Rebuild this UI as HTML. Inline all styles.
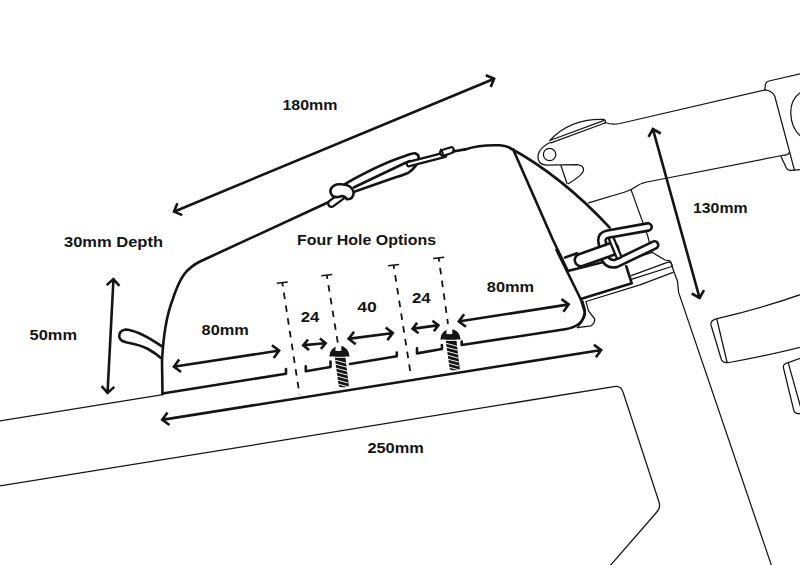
<!DOCTYPE html>
<html><head><meta charset="utf-8"><style>
html,body{margin:0;padding:0;background:#fff;}
body{width:800px;height:565px;overflow:hidden;}
svg{display:block;}
</style></head><body>
<svg width="800" height="565" viewBox="0 0 800 565">
<rect width="800" height="565" fill="#fff"/>
<path d="M-2,421.3 L163,394.6" fill="none" stroke="#141414" stroke-width="1.25" stroke-linecap="round" stroke-linejoin="round"/>
<path d="M-2,486.3 L614,386.6 Q621,385.3 623,392 L659,502 Q661,508 656,513 L609,567" fill="none" stroke="#141414" stroke-width="1.25" stroke-linecap="round" stroke-linejoin="round"/>
<path d="M631,189.6 L647.6,235.6 L651.9,251.9 Q658,256 665,260 L670,260.8 Q672,263 672,266 L673.75,271.25 L677.5,281.25 L678.6,292.4 L772,567" fill="none" stroke="#141414" stroke-width="1.25" stroke-linecap="round" stroke-linejoin="round"/>
<path d="M631.25,275.6 L668,262.2 Q671,262 671.5,264 L672.5,266.25 L631.25,279.4" fill="none" stroke="#141414" stroke-width="1.25" stroke-linecap="round" stroke-linejoin="round"/>
<path d="M586,301.5 L640,284.8 L673,272.4" fill="none" stroke="#141414" stroke-width="1.25" stroke-linecap="round" stroke-linejoin="round"/>
<path d="M627.5,260 L652.5,252.5" fill="none" stroke="#141414" stroke-width="1.25" stroke-linecap="round" stroke-linejoin="round"/>
<path d="M588.5,202.8 L625,192 Q632,189.8 636,186.5 Q640,183.5 647,182 L782,155.5" fill="none" stroke="#141414" stroke-width="1.25" stroke-linecap="round" stroke-linejoin="round"/>
<path d="M605,122.5 Q612,125 620,123.5 L765,90" fill="none" stroke="#141414" stroke-width="1.25" stroke-linecap="round" stroke-linejoin="round"/>
<path d="M764.7,89.8 L765.5,84 Q766,81.8 769,81 L805,72.8" fill="none" stroke="#141414" stroke-width="1.25" stroke-linecap="round" stroke-linejoin="round"/>
<path d="M764.7,89.8 Q772,90.5 774.7,96 L789.6,151.8 Q789,155 782,155.5" fill="none" stroke="#141414" stroke-width="1.25" stroke-linecap="round" stroke-linejoin="round"/>
<path d="M781,156.5 L785.8,166.7 Q787,170.4 791,170.4 L805,169.3" fill="none" stroke="#141414" stroke-width="1.25" stroke-linecap="round" stroke-linejoin="round"/>
<path d="M789.6,151.8 L794.5,170.4" fill="none" stroke="#141414" stroke-width="1.25" stroke-linecap="round" stroke-linejoin="round"/>
<path d="M805,89.8 Q790,97 790.8,114 Q791.5,131 805,139.4" fill="none" stroke="#141414" stroke-width="1.25" stroke-linecap="round" stroke-linejoin="round"/>
<path d="M549.8,140.5 Q570,118.5 603.5,119.4 Q606.5,120.5 605,123 M549.8,140.5 L603.5,120.6" fill="none" stroke="#141414" stroke-width="1.25" stroke-linecap="round" stroke-linejoin="round"/>
<path d="M551,142.8 L605,123" fill="none" stroke="#141414" stroke-width="1.25" stroke-linecap="round" stroke-linejoin="round"/>
<path d="M550.5,142.3 Q540,147 538,155 Q537,164 546,165.2 L577,164.6 Q584,165.5 583.5,170 Q583,175 568.2,183.7" fill="none" stroke="#141414" stroke-width="1.25" stroke-linecap="round" stroke-linejoin="round"/>
<circle cx="549.6" cy="154.5" r="6.2" fill="none" stroke="#141414" stroke-width="1.25"/>
<path d="M561,165.7 L567,183.5" fill="none" stroke="#141414" stroke-width="1.25" stroke-linecap="round" stroke-linejoin="round"/>
<path d="M805,293 Q760,309 717,318.6 Q710,320.5 711,325 L721.5,360 Q723.5,363.5 729,362.5 Q770,355 805,346" fill="none" stroke="#141414" stroke-width="1.25" stroke-linecap="round" stroke-linejoin="round"/>
<path d="M716.8,319 L727,362" fill="none" stroke="#141414" stroke-width="1.25" stroke-linecap="round" stroke-linejoin="round"/>
<path d="M805,356.5 L788.2,362.7 Q782.5,364 783.5,368 L793.9,410.8 Q795,414 800,413.7 L805,413" fill="none" stroke="#141414" stroke-width="1.25" stroke-linecap="round" stroke-linejoin="round"/>
<path d="M788.2,362.7 L802,412" fill="none" stroke="#141414" stroke-width="1.25" stroke-linecap="round" stroke-linejoin="round"/>
<path d="M162.5,394 L162,361 Q164,322 172.5,300 Q178,283 184,274.5 Q190,266.5 200,261.5 L331,201 M465,149.4 Q480,144.5 500,145.3 Q507,146 510,148" fill="none" stroke="#141414" stroke-width="2.60" stroke-linecap="round" stroke-linejoin="round"/>
<path d="M162.5,393.5 L286,373.7 L286,369" fill="none" stroke="#141414" stroke-width="2.60" stroke-linecap="round" stroke-linejoin="round"/>
<path d="M305.8,366.4 L305.8,371.2 L330.5,367 L330.5,361.5" fill="none" stroke="#141414" stroke-width="2.60" stroke-linecap="round" stroke-linejoin="round"/>
<path d="M396.8,352.6 L396.8,356.3 L350,364" fill="none" stroke="#141414" stroke-width="2.60" stroke-linecap="round" stroke-linejoin="round"/>
<path d="M417,348.4 L417,353.4 L441.9,349 L441.9,345" fill="none" stroke="#141414" stroke-width="2.60" stroke-linecap="round" stroke-linejoin="round"/>
<path d="M461.7,341.5 L461.7,345 L565,329.3 Q583.5,326.5 584.7,312 L581,299.7 L556.5,250" fill="none" stroke="#141414" stroke-width="2.60" stroke-linecap="round" stroke-linejoin="round"/>
<path d="M582.9,301 L585.4,309.7 Q587,318 577.3,327.6" fill="none" stroke="#141414" stroke-width="1.25" stroke-linecap="round" stroke-linejoin="round"/>
<path d="M586,301.6 L588.5,310.9 L594.7,319 Q595,323 591,325.8 L577.3,327.6" fill="none" stroke="#141414" stroke-width="1.25" stroke-linecap="round" stroke-linejoin="round"/>
<path d="M513.3,149.7 L553,240 L567.4,270" fill="none" stroke="#141414" stroke-width="2.60" stroke-linecap="round" stroke-linejoin="round"/>
<path d="M510,148 Q561.6,176 609.7,227.6" fill="none" stroke="#141414" stroke-width="2.60" stroke-linecap="round" stroke-linejoin="round"/>
<path d="M161.6,346.1 Q148,337 139.2,333.2 Q130,329.5 125.6,329.5 Q119,330.5 119.2,336.4 Q119.5,341 127,342.5 Q139,344.5 148,349 Q156,353.5 160.6,357.8" fill="none" stroke="#141414" stroke-width="2.60" stroke-linecap="round" stroke-linejoin="round"/>
<path d="M331.5,203.5 L343,195" fill="none" stroke="#141414" stroke-width="9.00" stroke-linecap="round" stroke-linejoin="round"/>
<path d="M331.5,203.5 L343,195" fill="none" stroke="#fff" stroke-width="4.40" stroke-linecap="round" stroke-linejoin="round"/>
<path d="M338.8,184.3 Q352,183.5 353.7,192.8 Q353,199.5 347,199.2 Q344,195 340,196.5 Q336,198 332.5,196 Q329,192 331.5,188 Q334,184.5 338.8,184.3 Z" fill="#fff" stroke="#141414" stroke-width="2.60" stroke-linecap="round" stroke-linejoin="round"/>
<path d="M345.2,183.8 Q380,164 405,156 Q412.5,153 415,153.3 Q419,154.5 418.6,157.5 Q417.5,167 408,173 Q401,176 395,177.5 L354.2,191.8" fill="none" stroke="#141414" stroke-width="2.60" stroke-linecap="round" stroke-linejoin="round"/>
<path d="M353.7,187.5 L405,163 L410,161" fill="none" stroke="#141414" stroke-width="2.60" stroke-linecap="round" stroke-linejoin="round"/>
<path d="M409,164 L444,155" fill="none" stroke="#141414" stroke-width="6.80" stroke-linecap="round" stroke-linejoin="round"/>
<path d="M409,164 L444,155" fill="none" stroke="#fff" stroke-width="2.30" stroke-linecap="round" stroke-linejoin="round"/>
<path d="M443,152.8 L451,150.2" fill="none" stroke="#141414" stroke-width="8.00" stroke-linecap="round" stroke-linejoin="round"/>
<path d="M443,152.8 L451,150.2" fill="none" stroke="#fff" stroke-width="3.60" stroke-linecap="round" stroke-linejoin="round"/>
<path d="M440.8,149.6 Q443.5,152.5 442.8,156.5" fill="none" stroke="#141414" stroke-width="2.00" stroke-linecap="round" stroke-linejoin="round"/>
<path d="M453,151.5 L465,149.4" fill="none" stroke="#141414" stroke-width="2.60" stroke-linecap="round" stroke-linejoin="round"/>
<path d="M565,257.5 L577,253.3" fill="none" stroke="#141414" stroke-width="2.60" stroke-linecap="round" stroke-linejoin="round"/>
<path d="M567.8,271 L607.5,261" fill="none" stroke="#141414" stroke-width="2.60" stroke-linecap="round" stroke-linejoin="round"/>
<path d="M626.25,266.25 L631.75,283.3 L580.75,299.0" fill="none" stroke="#141414" stroke-width="2.60" stroke-linecap="round" stroke-linejoin="round"/>
<path d="M648,227 L608,234.2 Q601.5,235.5 602,241 L604.5,257 Q607.5,265 616,263.5 L654.5,245" fill="none" stroke="#141414" stroke-width="10.00" stroke-linecap="round" stroke-linejoin="round"/>
<path d="M648,227 L608,234.2 Q601.5,235.5 602,241 L604.5,257 Q607.5,265 616,263.5 L654.5,245" fill="none" stroke="#fff" stroke-width="4.80" stroke-linecap="round" stroke-linejoin="round"/>
<path d="M581,260 L612,249" fill="none" stroke="#141414" stroke-width="15.00" stroke-linecap="round" stroke-linejoin="round"/>
<path d="M581,260 L612,249" fill="none" stroke="#fff" stroke-width="9.80" stroke-linecap="round" stroke-linejoin="round"/>
<path d="M611.7,239.5 L618.5,256" fill="none" stroke="#141414" stroke-width="7.20" stroke-linecap="round" stroke-linejoin="round"/>
<path d="M611.7,239.5 L618.5,256" fill="none" stroke="#fff" stroke-width="2.60" stroke-linecap="round" stroke-linejoin="round"/>
<path d="M282.3,282.8 L299.6,395.0" fill="none" stroke="#141414" stroke-width="1.8" stroke-dasharray="6.6,6.3" stroke-dashoffset="2.9"/>
<path d="M276.8,283.3 L287.8,282.0" fill="none" stroke="#141414" stroke-width="1.5"/>
<path d="M326.8,275.3 L338.0,344.0" fill="none" stroke="#141414" stroke-width="1.8" stroke-dasharray="6.6,6.3" stroke-dashoffset="2.9"/>
<path d="M321.3,275.8 L332.3,274.5" fill="none" stroke="#141414" stroke-width="1.5"/>
<path d="M393.6,265.2 L411.0,376.0" fill="none" stroke="#141414" stroke-width="1.8" stroke-dasharray="6.6,6.3" stroke-dashoffset="2.9"/>
<path d="M388.1,265.7 L399.1,264.4" fill="none" stroke="#141414" stroke-width="1.5"/>
<path d="M438.7,258.0 L448.0,324.0" fill="none" stroke="#141414" stroke-width="1.8" stroke-dasharray="6.6,6.3" stroke-dashoffset="2.9"/>
<path d="M433.2,258.5 L444.2,257.2" fill="none" stroke="#141414" stroke-width="1.5"/>
<g transform="translate(329.30,356.40)"><path d="M0,0 A10.15,10.6 0 0 1 20.3,0 Z" fill="#141414"/><rect x="6.2" y="-11.5" width="5.8" height="6.1" fill="#fff"/><path d="M5.3,-0.3 L16,-0.3 L19.5,29 Q19.5,30.5 16,30.8 L12,30.8 Q9.3,30.5 9.3,29 Z" fill="#141414"/><path d="M4,0.9 L17,0.9" stroke="#fff" stroke-width="1.0"/><path d="M5.0,3.60 L18.5,7.20" stroke="#fff" stroke-width="0.95"/><path d="M5.0,7.45 L18.5,11.05" stroke="#fff" stroke-width="0.95"/><path d="M5.0,11.30 L18.5,14.90" stroke="#fff" stroke-width="0.95"/><path d="M5.0,15.15 L18.5,18.75" stroke="#fff" stroke-width="0.95"/><path d="M5.0,19.00 L18.5,22.60" stroke="#fff" stroke-width="0.95"/><path d="M5.0,22.85 L18.5,26.45" stroke="#fff" stroke-width="0.95"/><path d="M5.0,26.70 L18.5,30.30" stroke="#fff" stroke-width="0.95"/></g>
<g transform="translate(440.30,339.50)"><path d="M0,0 A10.15,10.6 0 0 1 20.3,0 Z" fill="#141414"/><rect x="6.2" y="-11.5" width="5.8" height="6.1" fill="#fff"/><path d="M5.3,-0.3 L16,-0.3 L19.5,29 Q19.5,30.5 16,30.8 L12,30.8 Q9.3,30.5 9.3,29 Z" fill="#141414"/><path d="M4,0.9 L17,0.9" stroke="#fff" stroke-width="1.0"/><path d="M5.0,3.60 L18.5,7.20" stroke="#fff" stroke-width="0.95"/><path d="M5.0,7.45 L18.5,11.05" stroke="#fff" stroke-width="0.95"/><path d="M5.0,11.30 L18.5,14.90" stroke="#fff" stroke-width="0.95"/><path d="M5.0,15.15 L18.5,18.75" stroke="#fff" stroke-width="0.95"/><path d="M5.0,19.00 L18.5,22.60" stroke="#fff" stroke-width="0.95"/><path d="M5.0,22.85 L18.5,26.45" stroke="#fff" stroke-width="0.95"/><path d="M5.0,26.70 L18.5,30.30" stroke="#fff" stroke-width="0.95"/></g>
<path d="M175.1,211.2 L493.0,79.2 M182.3,215.1 L174.0,211.6 L177.4,203.3 M485.8,75.3 L494.1,78.7 L490.7,87.0" fill="none" stroke="#141414" stroke-width="2.60" stroke-linecap="butt" stroke-linejoin="miter"/>
<path d="M113.4,280.3 L107.6,391.7 M106.7,285.1 L113.4,279.1 L119.4,285.8 M114.3,386.9 L107.6,392.9 L101.6,386.2" fill="none" stroke="#141414" stroke-width="2.60" stroke-linecap="butt" stroke-linejoin="miter"/>
<path d="M653.2,130.2 L699.3,296.8 M648.5,136.9 L652.9,129.0 L660.8,133.5 M704.0,290.1 L699.6,298.0 L691.7,293.5" fill="none" stroke="#141414" stroke-width="2.60" stroke-linecap="butt" stroke-linejoin="miter"/>
<path d="M163.4,419.6 L600.0,350.2 M169.5,425.0 L162.2,419.7 L167.5,412.5 M593.9,344.8 L601.2,350.1 L595.9,357.3" fill="none" stroke="#141414" stroke-width="2.60" stroke-linecap="butt" stroke-linejoin="miter"/>
<path d="M175.1,366.5 L277.9,350.8 M181.1,372.0 L173.9,366.7 L179.2,359.4 M271.9,345.3 L279.1,350.6 L273.8,357.9" fill="none" stroke="#141414" stroke-width="2.60" stroke-linecap="butt" stroke-linejoin="miter"/>
<path d="M304.4,345.1 L324.5,343.3 M309.0,350.0 L303.2,345.3 L308.0,339.5 M319.9,338.4 L325.7,343.1 L320.9,348.9" fill="none" stroke="#141414" stroke-width="2.60" stroke-linecap="butt" stroke-linejoin="miter"/>
<path d="M349.8,338.6 L391.6,333.2 M355.7,344.3 L348.6,338.8 L354.1,331.7 M385.7,327.5 L392.8,333.0 L387.3,340.1" fill="none" stroke="#141414" stroke-width="2.60" stroke-linecap="butt" stroke-linejoin="miter"/>
<path d="M413.8,328.6 L437.2,325.4 M418.6,333.3 L412.6,328.8 L417.1,322.8 M432.4,320.7 L438.4,325.2 L433.9,331.2" fill="none" stroke="#141414" stroke-width="2.60" stroke-linecap="butt" stroke-linejoin="miter"/>
<path d="M460.0,321.3 L567.5,304.6 M466.0,326.8 L458.8,321.5 L464.1,314.2 M561.5,299.1 L568.7,304.4 L563.4,311.7" fill="none" stroke="#141414" stroke-width="2.60" stroke-linecap="butt" stroke-linejoin="miter"/>
<text x="282.5" y="110.0" textLength="55.0" lengthAdjust="spacingAndGlyphs" font-family="Liberation Sans, sans-serif" font-weight="bold" font-size="15.2" fill="#141414">180mm</text>
<text x="64.0" y="247.0" textLength="99.0" lengthAdjust="spacingAndGlyphs" font-family="Liberation Sans, sans-serif" font-weight="bold" font-size="15.2" fill="#141414">30mm Depth</text>
<text x="297.0" y="245.0" textLength="139.0" lengthAdjust="spacingAndGlyphs" font-family="Liberation Sans, sans-serif" font-weight="bold" font-size="15.2" fill="#141414">Four Hole Options</text>
<text x="693.0" y="212.5" textLength="54.5" lengthAdjust="spacingAndGlyphs" font-family="Liberation Sans, sans-serif" font-weight="bold" font-size="15.2" fill="#141414">130mm</text>
<text x="29.5" y="340.0" textLength="47.5" lengthAdjust="spacingAndGlyphs" font-family="Liberation Sans, sans-serif" font-weight="bold" font-size="15.2" fill="#141414">50mm</text>
<text x="201.6" y="335.0" textLength="47.2" lengthAdjust="spacingAndGlyphs" font-family="Liberation Sans, sans-serif" font-weight="bold" font-size="15.2" fill="#141414">80mm</text>
<text x="300.8" y="321.5" textLength="18.6" lengthAdjust="spacingAndGlyphs" font-family="Liberation Sans, sans-serif" font-weight="bold" font-size="15.2" fill="#141414">24</text>
<text x="357.2" y="311.8" textLength="19.5" lengthAdjust="spacingAndGlyphs" font-family="Liberation Sans, sans-serif" font-weight="bold" font-size="15.2" fill="#141414">40</text>
<text x="412.0" y="302.5" textLength="18.7" lengthAdjust="spacingAndGlyphs" font-family="Liberation Sans, sans-serif" font-weight="bold" font-size="15.2" fill="#141414">24</text>
<text x="486.8" y="292.0" textLength="47.4" lengthAdjust="spacingAndGlyphs" font-family="Liberation Sans, sans-serif" font-weight="bold" font-size="15.2" fill="#141414">80mm</text>
<text x="367.4" y="452.8" textLength="56.5" lengthAdjust="spacingAndGlyphs" font-family="Liberation Sans, sans-serif" font-weight="bold" font-size="15.2" fill="#141414">250mm</text>
</svg>
</body></html>
